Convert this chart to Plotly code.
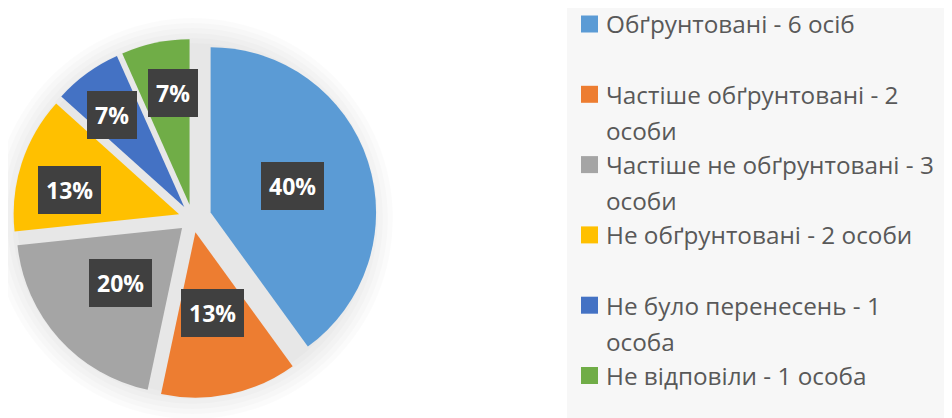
import math
import plotly.graph_objects as go

# ---- data ----
categories = [
    "Обґрунтовані - 6 осіб",
    "Частіше обґрунтовані - 2<br>особи",
    "Частіше не обґрунтовані - 3<br>особи",
    "Не обґрунтовані - 2 особи",
    "Не було перенесень - 1<br>особа",
    "Не відповіли - 1 особа",
]
values = [6, 2, 3, 2, 1, 1]

# ---- style ----
colors = ["#5B9BD5", "#ED7D31", "#A5A5A5", "#FFC000", "#4472C4", "#70AD47"]
pulls = [0.115, 0.085, 0.085, 0.085, 0.085, 0.085]
label_frac = [0.52, 0.5, 0.5, 0.68, 0.705, 0.68]   # label distance inside each slice (fraction of radius)
label_turn = [0, 0, 0, -5, -2, 3]                   # small angular nudge of labels (degrees)

W, H = 952, 418
OFF = 8                   # page offset of the figure inside the window
CX, CY = 192.5 - OFF, 218.5 - OFF   # pie centre in figure pixels
half = CX
R = half / (1 + max(pulls))

fig = go.Figure()
fig.add_trace(go.Pie(
    labels=[c.replace("<br>", " ") for c in categories],
    values=values,
    sort=False,
    direction="clockwise",
    rotation=0,
    pull=pulls,
    marker=dict(colors=colors, line=dict(width=0)),
    textinfo="none",
    hoverinfo="label+percent",
    showlegend=False,
    domain=dict(x=[0, (CX + half) / W],
                y=[1 - (CY + half) / H, 1 - (CY - half) / H]),
))

def px2x(px):
    return px / W

def py2y(py):
    return 1 - py / H

# soft shadow around pie
shapes = []
for k in range(6):
    rr = R * 1.06 + 5 * k
    shapes.append(dict(type="circle", xref="paper", yref="paper",
                       x0=px2x(CX - rr), x1=px2x(CX + rr),
                       y0=py2y(CY + rr), y1=py2y(CY - rr),
                       fillcolor="rgba(0,0,0,0.017)", line=dict(width=0), layer="below"))
# legend background
LEG_X0 = 567 - OFF
shapes.append(dict(type="rect", xref="paper", yref="paper",
                   x0=px2x(LEG_X0), x1=1, y0=0, y1=1,
                   fillcolor="#F7F7F7", line=dict(width=0), layer="below"))

annotations = []
# percentage labels on dark boxes
total = sum(values)
cum = 0
for i, v in enumerate(values):
    theta = math.radians((cum + v / 2) / total * 360 + label_turn[i])
    cum += v
    d = (pulls[i] + label_frac[i]) * R
    px = CX + d * math.sin(theta)
    py = CY - d * math.cos(theta)
    annotations.append(dict(
        x=px2x(px), y=py2y(py), xref="paper", yref="paper",
        text=f"{round(v / total * 100)}%", showarrow=False,
        font=dict(family="Open Sans", size=23, color="white", weight="bold"),
        bgcolor="#404040", borderpad=8, borderwidth=0, valign="middle",
        xanchor="center", yanchor="middle",
    ))

# legend (manual, to match the spacing of the original)
ROW0 = 24 - OFF        # centre of first legend row
ROW_PITCH = 70.3
LINE_PITCH = 36
SYM = 17
SYM_X = 581 - OFF
TXT_X = 604 - OFF
for i, (cat, col) in enumerate(zip(categories, colors)):
    yc = ROW0 + i * ROW_PITCH
    shapes.append(dict(type="rect", xref="paper", yref="paper",
                       x0=px2x(SYM_X), x1=px2x(SYM_X + SYM),
                       y0=py2y(yc + SYM / 2), y1=py2y(yc - SYM / 2),
                       fillcolor=col, line=dict(width=0)))
    for j, line in enumerate(cat.split("<br>")):
        annotations.append(dict(
            x=px2x(TXT_X), y=py2y(yc + j * LINE_PITCH), xref="paper", yref="paper",
            text=line, showarrow=False, xanchor="left", yanchor="middle",
            font=dict(family="Open Sans", size=24.3, color="#595959"),
        ))

fig.update_layout(
    width=W, height=H,
    margin=dict(l=0, r=0, t=0, b=0),
    paper_bgcolor="white", plot_bgcolor="white",
    shapes=shapes, annotations=annotations,
    showlegend=False,
)

fig.write_html("out.html")
